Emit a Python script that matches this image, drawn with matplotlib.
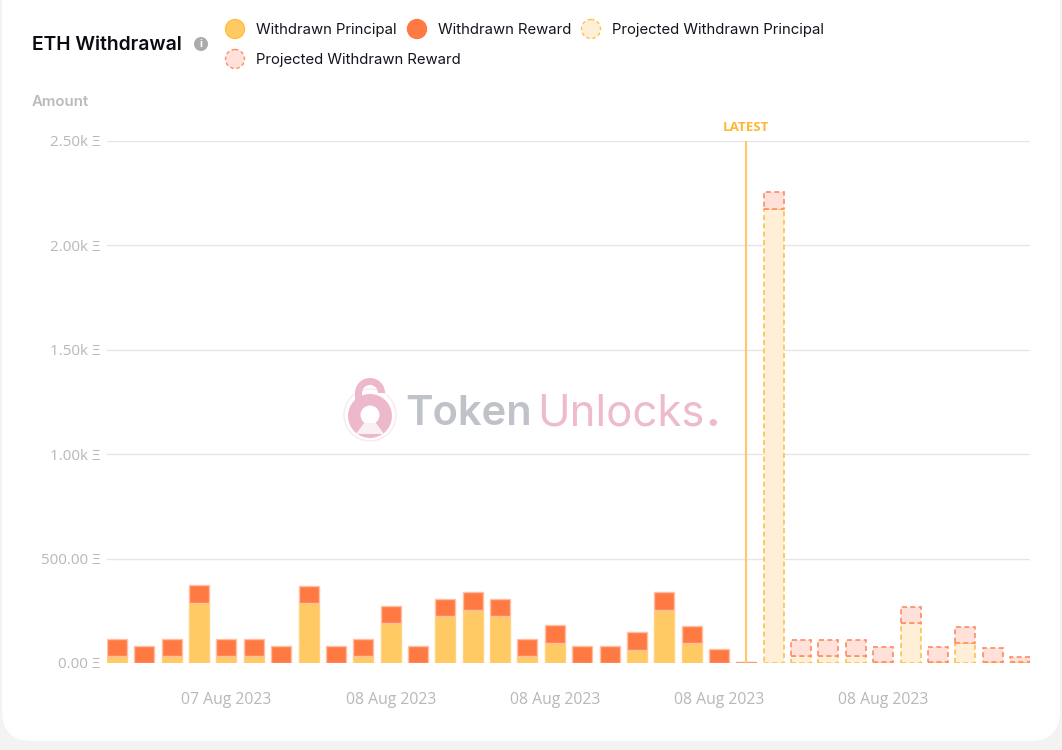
import matplotlib
matplotlib.use("Agg")
import numpy as np
import matplotlib.pyplot as plt
from matplotlib.patches import FancyBboxPatch, Circle, Wedge, Polygon, Rectangle

# values (ETH)
principal = [32, 0, 32, 286, 32, 32, 0, 286, 0, 32, 192, 0, 224, 255, 224, 32, 94, 0, 0, 64, 255, 94, 0, 0]
reward = [81, 83, 81, 86, 81, 81, 83, 84, 83, 81, 83, 83, 82, 83, 82, 81, 90, 83, 83, 83, 83, 85, 67, 6]
proj_principal = [2176, 35, 35, 35, 3, 193, 3, 94, 3, 3]
proj_reward = [79, 77, 77, 77, 75, 77, 74, 77, 71, 26]
y_ticks = [0, 500, 1000, 1500, 2000, 2500]
y_labels = ["0.00 Ξ", "500.00 Ξ", "1.00k Ξ", "1.50k Ξ", "2.00k Ξ", "2.50k Ξ"]
x_ticks = [4, 10, 16, 22, 28]
x_labels = ["07 Aug 2023", "08 Aug 2023", "08 Aug 2023", "08 Aug 2023", "08 Aug 2023"]
latest_index = 23

GOLD = "#FFC964"
ORANGE = "#FF7A42"
GOLD_LIGHT = "#FFEFD6"
ORANGE_LIGHT = "#FFE1DA"
GREY = "#B8B8B8"
W, H = 1062, 750

fig = plt.figure(figsize=(W / 100, H / 100), dpi=100, facecolor="#F3F3F3")

# overlay in pixel coordinates for the card, legend and watermark
bg = fig.add_axes([0, 0, 1, 1], zorder=0)
bg.set_xlim(0, W)
bg.set_ylim(H, 0)
bg.axis("off")
bg.add_patch(FancyBboxPatch((2, -40), W - 4, 781, boxstyle="round,pad=0,rounding_size=30",
                            fc="white", ec="none"))

bg.text(32, 45, "ETH Withdrawal", family="Inter", weight="semibold", fontsize=13.9, color="#0B0B14",
        va="center", ha="left")
bg.add_patch(Circle((201, 44), 7, fc="#ABABAB", ec="none"))
bg.text(201, 44, "i", family="Inter", weight="bold", fontsize=7.5, color="white", ha="center", va="center")
bg.text(32, 102, "Amount", family="Inter", weight="semibold", fontsize=10.8, color="#BBBBBB",
        va="center", ha="left")

legend_items = [
    (235, 29, "Withdrawn Principal", GOLD, "#FFBE45", "-"),
    (417, 29, "Withdrawn Reward", ORANGE, ORANGE, "-"),
    (591, 29, "Projected Withdrawn Principal", GOLD_LIGHT, "#FFC14D", (0, (2.5, 2))),
    (235, 59, "Projected Withdrawn Reward", ORANGE_LIGHT, "#FF8A65", (0, (2.5, 2))),
]
for cx, cy, label, fc, ec, ls in legend_items:
    bg.add_patch(Circle((cx, cy), 9.5, fc=fc, ec=ec, lw=1, ls=ls))
    bg.text(cx + 20.5, cy + 0.7, label, family="Inter", fontsize=10.7, color="#14141E", va="center", ha="left")

# watermark
PINK = "#EDB8CC"
bg.add_patch(Circle((370, 415), 26, fc="none", ec="#FBE9EF", lw=1))
bg.add_patch(Wedge((370, 393), 15, 180, 360, width=7, fc=PINK, ec="none"))
bg.add_patch(Rectangle((355, 393), 7, 12, fc=PINK, ec="none"))
bg.add_patch(Circle((370, 416), 22, fc=PINK, ec="none"))
bg.add_patch(Circle((370, 415), 9.5, fc="white", ec="none"))
bg.add_patch(Polygon([[364, 423], [376, 423], [384, 434], [356, 434]], fc="#FBEFF3", ec="none"))
bg.text(405, 414, "Token", family="Inter", weight="semibold", fontsize=30, color="#BFC3C9", va="center", ha="left")
bg.text(537, 414, "Unlocks", family="Inter", fontsize=31.5, color="#EDBBCD", va="center", ha="left")
bg.text(705, 414, ".", family="Inter", weight="bold", fontsize=31.5, color="#EDBBCD", va="center", ha="left")

# main chart
ax = fig.add_axes([107 / W, 1 - 663 / H, 923 / W, 522 / H], zorder=1)
ax.patch.set_alpha(0)
bar_w = 0.73
x_actual = np.arange(len(principal))
x_proj = np.arange(len(principal), len(principal) + len(proj_principal))

reward_edges = ["#FFBFA6"] * (len(reward) - 1) + ["#FF9A70"]
ax.bar(x_actual, principal, bar_w, color=GOLD, edgecolor="#FFD27F", lw=1, zorder=3)
ax.bar(x_actual, reward, bar_w, bottom=principal, color=ORANGE, edgecolor=reward_edges, lw=1, zorder=3)
ax.bar(x_proj, proj_principal, bar_w, color=GOLD_LIGHT, edgecolor="#FFC14D", lw=1.2,
       ls=(0, (3, 2)), zorder=3)
ax.bar(x_proj, proj_reward, bar_w, bottom=proj_principal, color=ORANGE_LIGHT, edgecolor="#FF8A65", lw=1.2,
       ls=(0, (3, 2)), zorder=3)

ax.axvline(latest_index, color="#FFC766", lw=1.5, zorder=4)
ax.text(latest_index, 2565, "LATEST", family="Open Sans", weight="bold", fontsize=9.6, color="#FFB833",
        ha="center", va="center")

ax.set_xlim(-0.365, len(principal) + len(proj_principal) - 1 + 0.365)
ax.set_ylim(0, 2500)
ax.set_yticks(y_ticks, y_labels)
ax.set_xticks(x_ticks, x_labels)
ax.grid(axis="y", color="#E6E6E6", lw=1, zorder=0)
ax.set_axisbelow(True)
ax.tick_params(axis="both", length=0, colors=GREY)
ax.tick_params(axis="x", pad=21, labelsize=11.3)
ax.tick_params(axis="y", pad=5, labelsize=11)
for lab in ax.get_xticklabels() + ax.get_yticklabels():
    lab.set_family("Open Sans")
for s in ax.spines.values():
    s.set_visible(False)

plt.savefig("out.png", dpi=100, facecolor=fig.get_facecolor())
